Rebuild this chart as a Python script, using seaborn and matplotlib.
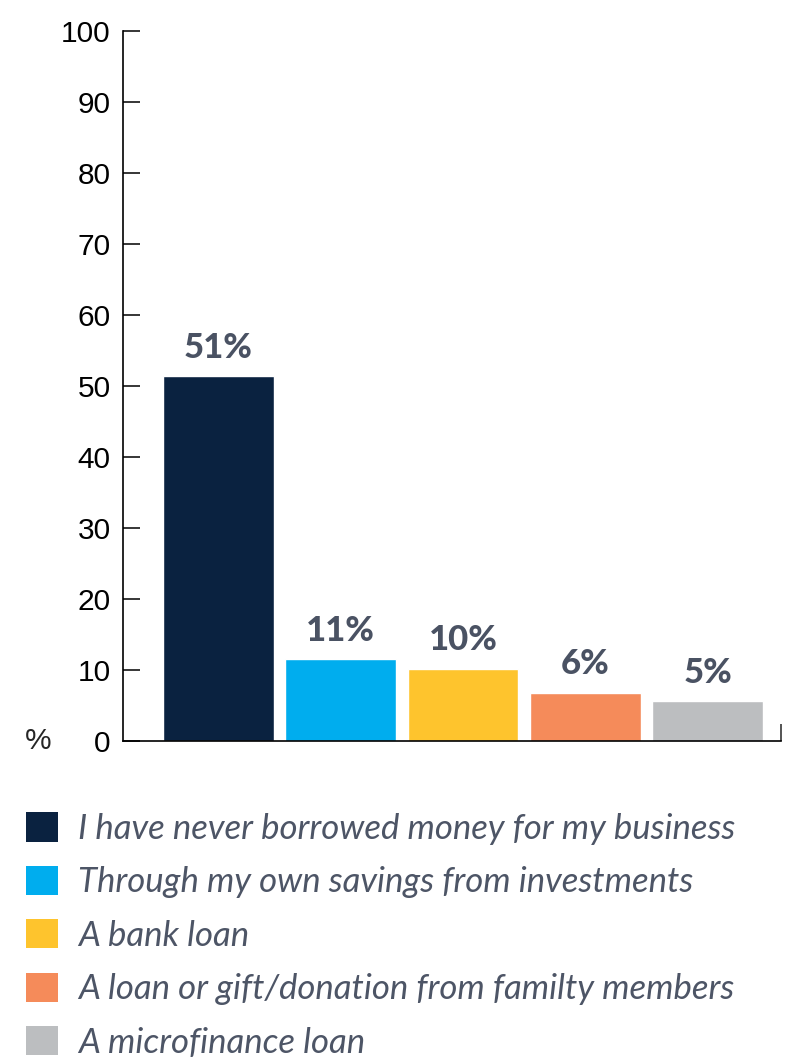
import matplotlib
matplotlib.use("Agg")
import matplotlib.pyplot as plt
from matplotlib.patches import Patch
import seaborn as sns
import pandas as pd

# data
categories = [
    "I have never borrowed money for my business",
    "Through my own savings from investments",
    "A bank loan",
    "A loan or gift/donation from familty members",
    "A microfinance loan",
]
values = [51.4, 11.5, 10.2, 6.8, 5.6]
value_labels = ["51%", "11%", "10%", "6%", "5%"]
colors = ["#0a2240", "#00adee", "#fec42d", "#f58b5a", "#bcbec0"]

df = pd.DataFrame({"source": categories, "share": values})

sns.set_theme(style="ticks")
plt.rcParams["font.family"] = ["Liberation Sans", "DejaVu Sans"]

fig = plt.figure(figsize=(7.85, 10.59), dpi=100)
ax = fig.add_axes([0.1567, 0.3003, 0.8382, 0.6704])

sns.barplot(data=df, x="source", y="share", hue="source", palette=colors,
            width=0.907, legend=False, ax=ax, saturation=1)

ax.set_ylim(0, 100)
ax.set_xlim(-0.78, 4.6)
ax.set_yticks(range(0, 101, 10))
ax.set_xticks([4.6])
ax.set_xticklabels([""])
ax.set_xlabel("")
ax.set_ylabel("")
ax.tick_params(axis="y", direction="in", length=12, width=1.1, labelsize=21.5,
               pad=9, colors="black")
ax.tick_params(axis="x", direction="in", length=12, width=1.1)
for s in ["top", "right"]:
    ax.spines[s].set_visible(False)
for s in ["left", "bottom"]:
    ax.spines[s].set_linewidth(1.2)
    ax.spines[s].set_color("black")

for cont, lab in zip(ax.containers, value_labels):
    ax.bar_label(cont, labels=[lab], padding=9, fontsize=25, fontweight=900,
                 color="#4a5263", family=["Lato", "DejaVu Sans"])

fig.text(0.049, 0.3003, "%", fontsize=21.5, ha="center", va="center")

handles = [Patch(facecolor=c, edgecolor="none") for c in colors]
leg = fig.legend(handles, categories, loc="upper left",
                 bbox_to_anchor=(0.033, 0.233), frameon=False,
                 prop={"family": ["Lato", "Liberation Sans"],
                       "style": "italic", "weight": "normal", "size": 25},
                 handlelength=0.92, handleheight=0.92, handletextpad=0.58,
                 labelspacing=0.6, borderpad=0, borderaxespad=0)
for t in leg.get_texts():
    t.set_color("#4d5566")

fig.savefig("out.png", dpi=100)
